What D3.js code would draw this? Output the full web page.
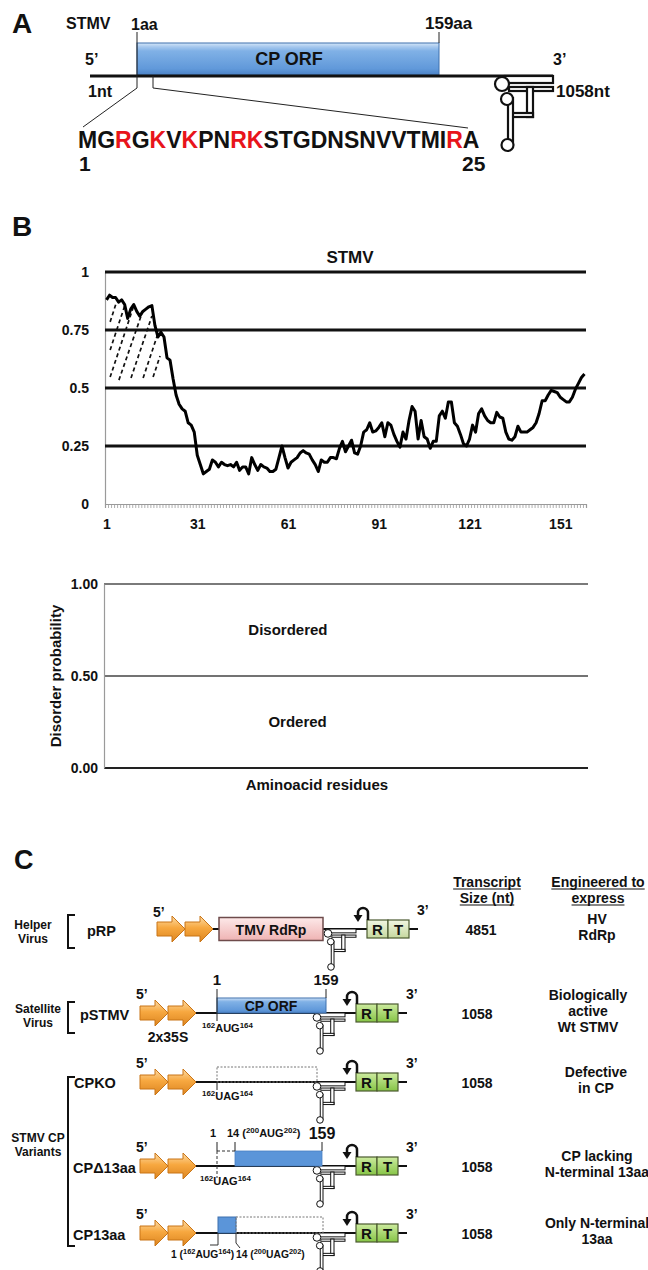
<!DOCTYPE html>
<html>
<head>
<meta charset="utf-8">
<script src="https://cdn.jsdelivr.net/npm/d3@7"></script>
<style>
  body { margin: 0; background: #fff; }
  text { font-family: "Liberation Sans", Arial, sans-serif; font-weight: bold; fill: #111; }
</style>
</head>
<body>
<svg id="fig" width="648" height="1270"></svg>
<script>
// ---- data ----
const sequence = "MGRGKVKPNRKSTGDNSNVVTMIRA".split("");
const basicPositions = [3, 5, 7, 10, 11, 24];   // red letters
const residues = d3.range(1, 160);
const disorder = [
  0.88, 0.90, 0.89, 0.89, 0.87, 0.88, 0.86, 0.80, 0.84, 0.86,
  0.83, 0.81, 0.83, 0.84, 0.85, 0.855, 0.77, 0.72, 0.74, 0.72,
  0.63, 0.62, 0.54, 0.47, 0.43, 0.41, 0.40, 0.35, 0.34, 0.31,
  0.21, 0.17, 0.13, 0.14, 0.15, 0.19, 0.18, 0.16, 0.18, 0.17,
  0.165, 0.17, 0.16, 0.18, 0.145, 0.16, 0.16, 0.13, 0.20, 0.17,
  0.145, 0.17, 0.16, 0.155, 0.14, 0.14, 0.15, 0.20, 0.25, 0.20,
  0.155, 0.18, 0.19, 0.20, 0.22, 0.23, 0.22, 0.215, 0.19, 0.17,
  0.14, 0.19, 0.18, 0.18, 0.20, 0.20, 0.195, 0.24, 0.27, 0.225,
  0.25, 0.275, 0.22, 0.215, 0.25, 0.31, 0.32, 0.35, 0.31, 0.315,
  0.33, 0.35, 0.29, 0.35, 0.34, 0.30, 0.27, 0.245, 0.31, 0.28,
  0.36, 0.42, 0.40, 0.28, 0.36, 0.29, 0.28, 0.24, 0.27, 0.27,
  0.38, 0.40, 0.37, 0.44, 0.44, 0.35, 0.335, 0.30, 0.26, 0.25,
  0.28, 0.34, 0.31, 0.39, 0.41, 0.38, 0.36, 0.35, 0.35, 0.395,
  0.375, 0.37, 0.31, 0.28, 0.275, 0.29, 0.335, 0.31, 0.31, 0.31,
  0.32, 0.33, 0.35, 0.39, 0.445, 0.445, 0.47, 0.49, 0.485, 0.48,
  0.46, 0.45, 0.44, 0.44, 0.46, 0.495, 0.52, 0.545, 0.56
];
const xTickResidues = [1, 31, 61, 91, 121, 151];
const yTicksTop = [0, 0.25, 0.5, 0.75, 1];
const yTickLabelsTop = ["0", "0.25", "0.5", "0.75", "1"];
// hatch strokes: [residue, value, residue, value]
const hatchLines = [
  [2.2, 0.785, 4.1, 0.862],
  [2.2, 0.664, 7.1, 0.858],
  [2.2, 0.547, 10.1, 0.858],
  [5.1, 0.534, 13.1, 0.836],
  [9.1, 0.543, 16.0, 0.810],
  [13.1, 0.543, 18.4, 0.750],
  [16.4, 0.547, 18.7, 0.638]
];
const yTicksBottom = [0, 0.5, 1];
const yTickLabelsBottom = ["0.00", "0.50", "1.00"];
const regionLabels = ["Disordered", "Ordered"];
const regionValues = [0.75, 0.25];

const constructs = ["pRP", "pSTMV", "CPKO", "CP\u039413aa", "CP13aa"];
const transcriptSizes = ["4851", "1058", "1058", "1058", "1058"];
const engineeredTo = [
  ["HV", "RdRp"],
  ["Biologically", "active", "Wt STMV"],
  ["Defective", "in CP"],
  ["CP lacking", "N-terminal 13aa"],
  ["Only N-terminal", "13aa"]
];

// ---- setup ----
const svg = d3.select("#fig");
const defs = svg.append("defs");

function vGrad(id, stops) {
  const g = defs.append("linearGradient").attr("id", id)
    .attr("x1", 0).attr("y1", 0).attr("x2", 0).attr("y2", 1);
  stops.forEach(s => g.append("stop").attr("offset", s[0]).attr("stop-color", s[1]));
}
vGrad("gBlue", [[0, "#d4e6f8"], [0.12, "#a6c8ee"], [0.25, "#80b1e6"], [0.8, "#6199da"], [1, "#4b82c6"]]);
vGrad("gPink", [[0, "#fde9e9"], [1, "#efb3b3"]]);
vGrad("gLightGreen", [[0, "#f1f6e2"], [1, "#c6d89f"]]);
vGrad("gGreen", [[0, "#cdeb9f"], [1, "#86c446"]]);
vGrad("gOrange", [[0, "#fddca6"], [0.45, "#f7a840"], [1, "#dc8520"]]);

function label(g, x, y, txt, size, anchor) {
  return g.append("text").attr("x", x).attr("y", y)
    .attr("font-size", size).attr("text-anchor", anchor || "start").text(txt);
}

// text with superscript pieces: parts = [[string, isSup], ...]
function richText(g, x, y, parts, size, anchor) {
  const t = g.append("text").attr("x", x).attr("y", y)
    .attr("font-size", size).attr("text-anchor", anchor || "start");
  let up = false;
  parts.forEach(([s, sup]) => {
    const ts = t.append("tspan").text(s);
    if (sup) {
      ts.attr("font-size", size * 0.72);
      if (!up) { ts.attr("dy", -size * 0.38); up = true; }
    } else if (up) {
      ts.attr("dy", size * 0.38); up = false;
    }
  });
  return t;
}

// pseudo-knot / tRNA-like 3' structure, drawn as an outlined ribbon
function stemLoop(g, ax, ay, s, sw) {
  const sl = g.append("g").attr("transform", `translate(${ax},${ay}) scale(${s})`);
  const rects = [[-48, 0, 48, 7], [-44, 11, 44, 4], [-26, 11, 6, 30], [-44, 37, 24, 4], [-45, 22, 5, 46]];
  sl.selectAll("rect").data(rects).join("rect")
    .attr("x", d => d[0]).attr("y", d => d[1]).attr("width", d => d[2]).attr("height", d => d[3])
    .attr("fill", "#fff").attr("stroke", "#111").attr("stroke-width", sw / s);
  const circles = [[-51, 8, 7], [-46, 23, 6], [-45.5, 69, 6]];
  sl.selectAll("circle").data(circles).join("circle")
    .attr("cx", d => d[0]).attr("cy", d => d[1]).attr("r", d => d[2])
    .attr("fill", "#fff").attr("stroke", "#111").attr("stroke-width", sw / s);
}

function seg(g, x1, y1, x2, y2, w, col, dash) {
  const l = g.append("line").attr("x1", x1).attr("y1", y1).attr("x2", x2).attr("y2", y2)
    .attr("stroke", col || "#222").attr("stroke-width", w || 1);
  if (dash) l.attr("stroke-dasharray", dash);
  return l;
}

// ================= PANEL A =================
const A = svg.append("g");
label(A, 12, 33, "A", 28);
label(A, 66, 29, "STMV", 16);
label(A, 131, 30, "1aa", 16);
label(A, 425, 29, "159aa", 17);

A.append("rect").attr("x", 137).attr("y", 43).attr("width", 302).attr("height", 32)
  .attr("fill", "url(#gBlue)").attr("stroke", "#3f70ae").attr("stroke-width", 1);
label(A, 289, 65, "CP ORF", 18, "middle");

A.append("line").attr("x1", 90).attr("x2", 553).attr("y1", 76).attr("y2", 76)
  .attr("stroke", "#111").attr("stroke-width", 3);
stemLoop(A, 553, 76, 1, 2.2);

label(A, 85, 65, "5\u2019", 16);
label(A, 553, 65, "3\u2019", 16);
label(A, 88, 97, "1nt", 16);
label(A, 556, 97, "1058nt", 17);

// ticks and zoom-in lines
seg(A, 137, 32, 137, 88);
seg(A, 153, 76, 153, 88);
seg(A, 439, 32, 439, 43);
seg(A, 137, 88, 83, 127);
seg(A, 153, 88, 468, 128);

const seqText = A.append("text").attr("x", 78).attr("y", 148).attr("font-size", 23);
seqText.selectAll("tspan").data(sequence).join("tspan")
  .text(d => d)
  .style("fill", (d, i) => basicPositions.includes(i + 1) ? "#e8141b" : "#111");
label(A, 79, 171, "1", 21);
label(A, 462, 171, "25", 21);

// ================= PANEL B =================
const B = svg.append("g");
label(B, 12, 236, "B", 28);
label(B, 350, 263, "STMV", 17, "middle");

const x1 = d3.scaleLinear().domain([0.5, 159.5]).range([105, 586]);
const y1 = d3.scaleLinear().domain([0, 1]).range([504, 272]);

// minor ticks for every residue
const xMinor = B.append("g").attr("transform", "translate(0,504)")
  .call(d3.axisBottom(x1).tickValues(d3.range(0.5, 160, 1)).tickSize(4).tickFormat(""));
xMinor.selectAll("line").attr("stroke", "#9a9a9a").attr("stroke-width", 0.8);
xMinor.select(".domain").attr("stroke", "#9a9a9a").attr("stroke-width", 1.2);

const xLab = B.append("g").attr("transform", "translate(0,504)")
  .call(d3.axisBottom(x1).tickValues(xTickResidues).tickSize(0).tickPadding(15));
xLab.select(".domain").remove();
xLab.selectAll("text").attr("font-size", 14).attr("font-family", null);

const yAx = B.append("g").attr("transform", "translate(105,0)")
  .call(d3.axisLeft(y1).tickValues(yTicksTop).tickSize(0).tickPadding(16)
    .tickFormat((d, i) => yTickLabelsTop[i]));
yAx.select(".domain").attr("stroke", "#9a9a9a").attr("stroke-width", 1.2);
yAx.selectAll("text").attr("font-size", 14).attr("font-family", null);

B.append("g").selectAll("line").data(yTicksTop.filter(v => v > 0)).join("line")
  .attr("x1", 105).attr("x2", 586).attr("y1", d => y1(d)).attr("y2", d => y1(d))
  .attr("stroke", "#111").attr("stroke-width", 3);

B.append("g").selectAll("line").data(hatchLines).join("line")
  .attr("x1", d => x1(d[0])).attr("y1", d => y1(d[1]))
  .attr("x2", d => x1(d[2])).attr("y2", d => y1(d[3]))
  .attr("stroke", "#111").attr("stroke-width", 1.7).attr("stroke-dasharray", "4,3");

B.append("path").datum(disorder)
  .attr("fill", "none").attr("stroke", "#000").attr("stroke-width", 3)
  .attr("stroke-linejoin", "round")
  .attr("d", d3.line().x((d, i) => x1(residues[i])).y(d => y1(d)));

// legend frame chart
const x2 = d3.scaleLinear().domain([0, 1]).range([104, 588]);
const y2 = d3.scaleLinear().domain([0, 1]).range([768, 584]);
const frameStyle = [["#7a7a7a", 2], ["#444", 1.5], ["#222", 2]];
B.append("g").selectAll("line").data(yTicksBottom.slice().reverse()).join("line")
  .attr("x1", x2(0)).attr("x2", x2(1)).attr("y1", d => y2(d)).attr("y2", d => y2(d))
  .attr("stroke", (d, i) => frameStyle[i][0]).attr("stroke-width", (d, i) => frameStyle[i][1]);
const yAx2 = B.append("g").attr("transform", `translate(${x2(0)},0)`)
  .call(d3.axisLeft(y2).tickValues(yTicksBottom).tickSize(0).tickPadding(6)
    .tickFormat((d, i) => yTickLabelsBottom[i]));
yAx2.select(".domain").attr("stroke", "#9a9a9a").attr("stroke-width", 1.2);
yAx2.selectAll("text").attr("font-size", 14).attr("font-family", null);

B.selectAll("text.region").data(regionLabels).join("text").attr("class", "region")
  .attr("x", (d, i) => x2(0.38 + i * 0.02)).attr("y", (d, i) => y2(regionValues[i]) + 5)
  .attr("text-anchor", "middle").attr("font-size", 15).text(d => d);
label(B, x2(0.44), 790, "Aminoacid residues", 15, "middle");
B.append("text").attr("transform", `translate(61,${y2(0.5)}) rotate(-90)`)
  .attr("text-anchor", "middle").attr("font-size", 15).text("Disorder probability");

// ================= PANEL C =================
const C = svg.append("g");
label(C, 14, 869, "C", 27);

// column headers
[["Transcript", "Size (nt)", 487], ["Engineered to", "express", 598]].forEach(h => {
  [h[0], h[1]].forEach((t, k) => {
    const tx = label(C, h[2], 887 + k * 16, t, 14, "middle");
    const w = tx.node().getComputedTextLength();
    seg(C, h[2] - w / 2, 889 + k * 16, h[2] + w / 2, 889 + k * 16, 1.2, "#111");
  });
});

// row layout
const rows = [
  { y: 929, ax: 157, sl: 356, bx: 367, end: 418, light: true, descX: 597 },
  { y: 1013, ax: 140, sl: 345, bx: 356, end: 407, descX: 588 },
  { y: 1082, ax: 140, sl: 345, bx: 356, end: 407, descX: 596 },
  { y: 1166, ax: 140, sl: 345, bx: 356, end: 407, descX: 597 },
  { y: 1233, ax: 140, sl: 345, bx: 356, end: 407, descX: 597 }
];
// amino-acid positions along the construct cartoons (not to scale)
const aa = d3.scaleLinear().domain([1, 14, 159]).range([217, 235, 322]);

function promoter(g, x, y) {
  const pts = [[0, -7], [15, -7], [15, -13], [28, 0], [15, 13], [15, 7], [0, 7]];
  g.append("polygon").attr("points", pts.map(p => [x + p[0], y + p[1]].join(",")).join(" "))
    .attr("fill", "url(#gOrange)").attr("stroke", "#c97517").attr("stroke-width", 1);
}

function hookArrow(g, x, top) {
  g.append("path").attr("d", `M${x + 1},${top} V${top - 7} A5,5 0 0 0 ${x - 9},${top - 7} V${top - 4}`)
    .attr("fill", "none").attr("stroke", "#111").attr("stroke-width", 2.5);
  g.append("polygon").attr("points", `${x - 13.5},${top - 5} ${x - 4.5},${top - 5} ${x - 9},${top + 2}`)
    .attr("fill", "#111");
}

rows.forEach((r, i) => {
  const g = C.append("g");
  // backbone
  seg(g, r.ax + 50, r.y, r.end, r.y, 2, "#111");
  promoter(g, r.ax, r.y);
  promoter(g, r.ax + 28, r.y);
  label(g, r.ax - 4, r.y - (i === 0 ? 12 : 14), "5\u2019", 14);
  stemLoop(g, r.sl, r.y, 0.55, 1);
  // R T boxes
  ["R", "T"].forEach((t, k) => {
    g.append("rect").attr("x", r.bx + k * 21).attr("y", r.y - 9).attr("width", 21).attr("height", 18)
      .attr("fill", r.light ? "url(#gLightGreen)" : "url(#gGreen)")
      .attr("stroke", "#4b5a30").attr("stroke-width", 1.2);
    label(g, r.bx + k * 21 + 10.5, r.y + 6, t, 15, "middle");
  });
  hookArrow(g, r.bx, r.y - 9);
  label(g, r.end - 1, r.y - 14, "3\u2019", 14);
  // right columns
  label(g, i === 0 ? 481 : 477, r.y + 6, transcriptSizes[i], 14, "middle");
  const lines = engineeredTo[i];
  const top = r.y + 3 - (lines.length - 1) * 8;
  lines.forEach((t, k) => label(g, r.descX, top + k * 16, t, 14, "middle"));
});

// row-specific cartoons
const r0 = rows[0], r1 = rows[1], r2 = rows[2], r3 = rows[3], r4 = rows[4];
C.append("rect").attr("x", 219).attr("y", r0.y - 11.5).attr("width", 104).attr("height", 23)
  .attr("fill", "url(#gPink)").attr("stroke", "#6e4b4b").attr("stroke-width", 1.5);
label(C, 271, r0.y + 6, "TMV RdRp", 14, "middle");

// pSTMV
C.append("rect").attr("x", aa(1)).attr("y", r1.y - 15).attr("width", aa(159) + 4 - aa(1)).attr("height", 15)
  .attr("fill", "url(#gBlue)").attr("stroke", "#3f70ae").attr("stroke-width", 1);
label(C, 271, r1.y - 2.5, "CP ORF", 14, "middle");
seg(C, aa(1), r1.y - 24, aa(1), r1.y + 8);
seg(C, aa(159) + 4, r1.y - 24, aa(159) + 4, r1.y - 15);
label(C, aa(1), r1.y - 28, "1", 15, "middle");
label(C, aa(159) + 4, r1.y - 28, "159", 15, "middle");
label(C, 168, r1.y + 29, "2x35S", 14, "middle");
richText(C, 202, r1.y + 19, [["162", 1], ["AUG", 0], ["164", 1]], 11);

// CPKO
C.append("rect").attr("x", aa(1)).attr("y", r2.y - 15).attr("width", 100).attr("height", 15)
  .attr("fill", "none").attr("stroke", "#777").attr("stroke-width", 1).attr("stroke-dasharray", "2,1.5");
seg(C, aa(1), r2.y, aa(1), r2.y + 8);
richText(C, 202, r2.y + 18, [["162", 1], ["UAG", 0], ["164", 1]], 11);

// CPΔ13aa
C.append("rect").attr("x", aa(14)).attr("y", r3.y - 15).attr("width", aa(159) - aa(14)).attr("height", 15)
  .attr("fill", "#5b95d9").attr("stroke", "#4a80c4").attr("stroke-width", 0.8);
seg(C, aa(1), r3.y - 15, aa(14), r3.y - 15, 1, "#333", "3,2");
seg(C, aa(1), r3.y - 15, aa(1), r3.y + 12, 1, "#333", "3,2");
seg(C, aa(1), r3.y - 24, aa(1), r3.y - 15);
seg(C, aa(14), r3.y - 24, aa(14), r3.y - 15);
seg(C, aa(159), r3.y - 24, aa(159), r3.y - 15);
label(C, aa(1) - 1, r3.y - 29, "1", 11, "end");
richText(C, aa(14) - 8, r3.y - 29, [["14 (", 0], ["200", 1], ["AUG", 0], ["202", 1], [")", 0]], 11);
label(C, aa(159), r3.y - 27, "159", 16, "middle");
richText(C, 200, r3.y + 19, [["162", 1], ["UAG", 0], ["164", 1]], 11);

// CP13aa
C.append("rect").attr("x", aa(1) + 1).attr("y", r4.y - 16).attr("width", aa(14) - aa(1)).attr("height", 16)
  .attr("fill", "#5b95d9").attr("stroke", "#3f70ae").attr("stroke-width", 1);
C.append("rect").attr("x", aa(14) + 1).attr("y", r4.y - 16).attr("width", aa(159) - aa(14)).attr("height", 16)
  .attr("fill", "none").attr("stroke", "#777").attr("stroke-width", 1).attr("stroke-dasharray", "2,1.5");
C.append("path").attr("d", `M${aa(1) + 1},${r4.y} V${r4.y + 12} H${aa(1) - 7}`)
  .attr("fill", "none").attr("stroke", "#333").attr("stroke-width", 1);
C.append("path").attr("d", `M${aa(14) + 1},${r4.y} V${r4.y + 10} L${aa(14) + 5},${r4.y + 15}`)
  .attr("fill", "none").attr("stroke", "#333").attr("stroke-width", 1);
richText(C, 171, r4.y + 25, [["1 (", 0], ["162", 1], ["AUG", 0], ["164", 1], [")", 0]], 10.3);
richText(C, 236, r4.y + 25, [["14 (", 0], ["200", 1], ["UAG", 0], ["202", 1], [")", 0]], 10.3);

// left labels and brackets
function bracket(g, x, y0, y1) {
  g.append("path").attr("d", `M${x + 7},${y0} H${x} V${y1} H${x + 7}`)
    .attr("fill", "none").attr("stroke", "#111").attr("stroke-width", 2);
}
bracket(C, 68, 915, 948);
bracket(C, 68, 1002, 1033);
bracket(C, 68, 1077, 1246);
[["Helper", "Virus", 33, 929], ["Satellite", "Virus", 38, 1013], ["STMV CP", "Variants", 38, 1142]].forEach(h => {
  label(C, h[2], h[3], h[0], 12, "middle");
  label(C, h[2], h[3] + 14, h[1], 12, "middle");
});
const nameX = [87, 80, 74, 73, 73];
const nameY = [936, 1020, 1088, 1173, 1240];
constructs.forEach((c, i) => label(C, nameX[i], nameY[i], c, 14.5));
</script>
</body>
</html>
